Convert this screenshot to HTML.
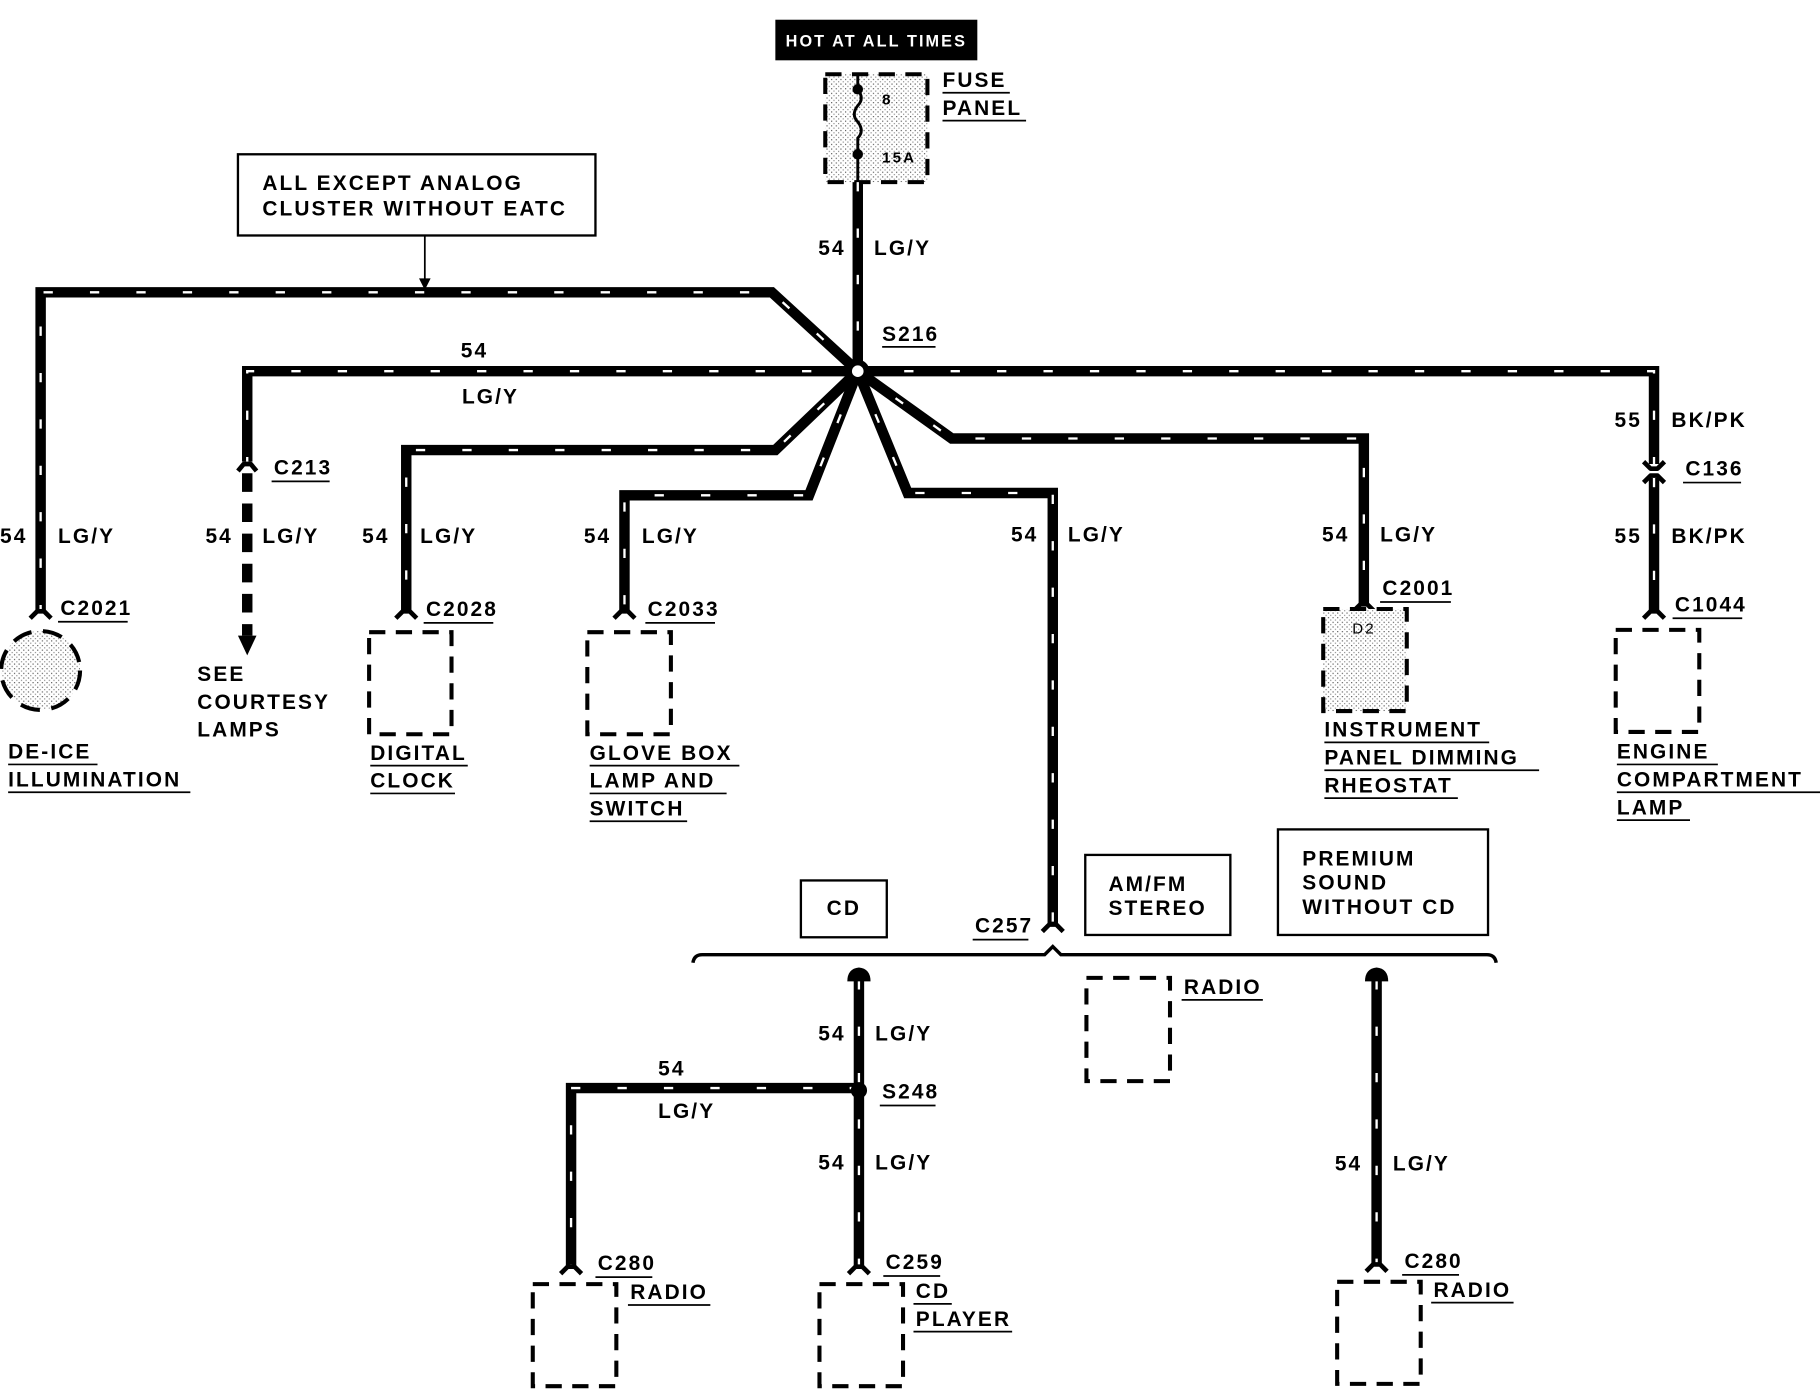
<!DOCTYPE html>
<html><head><meta charset="utf-8"><style>
html,body{margin:0;padding:0;background:#fff;}
svg{display:block;}
text{font-family:"Liberation Sans",sans-serif;font-weight:bold;font-size:18px;letter-spacing:1.8px;fill:#000;}
.w{fill:none;stroke:#000;stroke-width:9;stroke-linejoin:miter;}
.d{fill:none;stroke:#fff;stroke-width:2;stroke-dasharray:8 32;}
.c{fill:none;stroke:#000;stroke-width:4;stroke-linejoin:round;}
.b{fill:none;stroke:#000;stroke-width:3.5;stroke-dasharray:14 9;}
.u{stroke:#000;stroke-width:1.5;}
.bx{fill:#fff;stroke:#000;stroke-width:2;}
</style></head><body>
<svg width="1820" height="1392" viewBox="0 0 1568 1200" preserveAspectRatio="none" xmlns="http://www.w3.org/2000/svg">
<defs>
<pattern id="st" width="4" height="4" patternUnits="userSpaceOnUse"><rect width="4" height="4" fill="#fff"/><rect x="0" y="0" width="1" height="1" fill="#555"/><rect x="2" y="2" width="1" height="1" fill="#888"/></pattern>
</defs>
<rect x="668" y="17" width="174" height="35" fill="#000"/>
<text x="755" y="40" text-anchor="middle" style="fill:#fff;font-size:14px">HOT AT ALL TIMES</text>
<rect x="711" y="64" width="88" height="93" fill="url(#st)"/>
<rect x="711" y="64" width="88" height="93" class="b"/>
<path d="M739 64 V77 M739 77 q6 8 0 14 q-6 8 0 14 q6 8 0 14 V157" fill="none" stroke="#000" stroke-width="2.5"/>
<circle cx="739" cy="77" r="4.5"/><circle cx="739" cy="133" r="4.5"/>
<text x="760" y="90" style="font-size:13px">8</text>
<text x="760" y="140" style="font-size:13px">15A</text>
<text x="812" y="75">FUSE</text><line class="u" x1="812" y1="80" x2="870" y2="80"/>
<text x="812" y="99">PANEL</text><line class="u" x1="812" y1="104" x2="884" y2="104"/>
<text x="705" y="220">54</text><text x="753" y="220">LG/Y</text>
<rect x="205" y="133" width="308" height="70" class="bx"/>
<text x="226" y="164">ALL EXCEPT ANALOG</text>
<text x="226" y="186">CLUSTER WITHOUT EATC</text>
<line x1="366" y1="203" x2="366" y2="246" stroke="#000" stroke-width="1.5"/>
<path d="M361 240 L366 250 L371 240 Z"/>
<g>
<path class="w" d="M739 157 V320"/><path class="d" d="M739 157 V320"/>
<path class="w" d="M739 320 L665 252 H35 V527"/><path class="d" d="M739 320 L665 252 H35 V527"/>
<path class="w" d="M739 320 H213 V398"/><path class="d" d="M739 320 H213 V398"/>
<path class="w" d="M739 320 L668 388 H350 V527"/><path class="d" d="M739 320 L668 388 H350 V527"/>
<path class="w" d="M739 320 L697 427 H538 V527"/><path class="d" d="M739 320 L697 427 H538 V527"/>
<path class="w" d="M739 320 L782 425 H907 V797"/><path class="d" d="M739 320 L782 425 H907 V797"/>
<path class="w" d="M739 320 L820 378 H1175 V522"/><path class="d" d="M739 320 L820 378 H1175 V522"/>
<path class="w" d="M739 320 H1425 V400"/><path class="d" d="M739 320 H1425 V400"/>
<path class="w" d="M1425 412 V527"/><path class="d" d="M1425 412 V527"/>
<path d="M213 408 V548" stroke="#000" stroke-width="9" stroke-dasharray="16 10" fill="none"/>
<path d="M205 548 L213 565 L221 548 Z"/>
</g>
<circle cx="739" cy="320" r="10" fill="#000"/><circle cx="739" cy="320" r="5" fill="#fff"/>
<text x="760" y="294">S216</text><line class="u" x1="760" y1="299" x2="806" y2="299"/>
<text x="397" y="308">54</text><text x="398" y="348">LG/Y</text>
<path class="c" d="M26 533 L32 527 H38 L44 533"/>
<path class="c" d="M205 406 L210 400 H216 L221 406"/>
<path class="c" d="M341 533 L347 527 H353 L359 533"/>
<path class="c" d="M529 533 L535 527 H541 L547 533"/>
<path class="c" d="M1166 527 L1172 521 H1178 L1184 527"/>
<path class="c" d="M1416 398 L1422 404 H1428 L1434 398"/>
<path class="c" d="M1416 416 L1422 410 H1428 L1434 416"/>
<path class="c" d="M1416 533 L1422 527 H1428 L1434 533"/>
<path class="c" d="M898 803 L904 797 H910 L916 803"/>
<text x="0" y="468">54</text><text x="50" y="468">LG/Y</text>
<text x="177" y="468">54</text><text x="226" y="468">LG/Y</text>
<text x="312" y="468">54</text><text x="362" y="468">LG/Y</text>
<text x="503" y="468">54</text><text x="553" y="468">LG/Y</text>
<text x="871" y="467">54</text><text x="920" y="467">LG/Y</text>
<text x="1139" y="467">54</text><text x="1189" y="467">LG/Y</text>
<text x="1391" y="468">55</text><text x="1440" y="468">BK/PK</text>
<text x="1391" y="368">55</text><text x="1440" y="368">BK/PK</text>
<text x="52" y="530">C2021</text><line class="u" x1="50" y1="536" x2="110" y2="536"/>
<text x="236" y="409">C213</text><line class="u" x1="234" y1="415" x2="284" y2="415"/>
<text x="367" y="531">C2028</text><line class="u" x1="365" y1="537" x2="425" y2="537"/>
<text x="558" y="531">C2033</text><line class="u" x1="556" y1="537" x2="616" y2="537"/>
<text x="1191" y="513">C2001</text><line class="u" x1="1189" y1="519" x2="1250" y2="519"/>
<text x="1452" y="410">C136</text><line class="u" x1="1450" y1="416" x2="1500" y2="416"/>
<text x="1443" y="527">C1044</text><line class="u" x1="1441" y1="533" x2="1501" y2="533"/>
<circle cx="35" cy="578" r="34" fill="url(#st)"/>
<circle cx="35" cy="578" r="34" fill="none" stroke="#000" stroke-width="3.5" stroke-dasharray="17 10"/>
<text x="7" y="654">DE-ICE</text><line class="u" x1="7" y1="659" x2="84" y2="659"/>
<text x="7" y="678">ILLUMINATION</text><line class="u" x1="7" y1="683" x2="164" y2="683"/>
<text x="170" y="587">SEE</text><text x="170" y="611">COURTESY</text><text x="170" y="635">LAMPS</text>
<rect x="318" y="545" width="71" height="88" class="b"/>
<text x="319" y="655">DIGITAL</text><line class="u" x1="319" y1="660" x2="403" y2="660"/>
<text x="319" y="679">CLOCK</text><line class="u" x1="319" y1="684" x2="392" y2="684"/>
<rect x="506" y="545" width="72" height="88" class="b"/>
<text x="508" y="655">GLOVE BOX</text><line class="u" x1="508" y1="660" x2="637" y2="660"/>
<text x="508" y="679">LAMP AND</text><line class="u" x1="508" y1="684" x2="626" y2="684"/>
<text x="508" y="703">SWITCH</text><line class="u" x1="508" y1="708" x2="592" y2="708"/>
<rect x="1140" y="525" width="72" height="88" fill="url(#st)"/>
<rect x="1140" y="525" width="72" height="88" class="b"/>
<text x="1165" y="546" style="font-size:13px;font-weight:normal">D2</text>
<text x="1141" y="635">INSTRUMENT</text><line class="u" x1="1141" y1="640" x2="1283" y2="640"/>
<text x="1141" y="659">PANEL DIMMING</text><line class="u" x1="1141" y1="664" x2="1326" y2="664"/>
<text x="1141" y="683">RHEOSTAT</text><line class="u" x1="1141" y1="688" x2="1256" y2="688"/>
<rect x="1392" y="543" width="72" height="88" class="b"/>
<text x="1393" y="654">ENGINE</text><line class="u" x1="1393" y1="659" x2="1480" y2="659"/>
<text x="1393" y="678">COMPARTMENT</text><line class="u" x1="1393" y1="683" x2="1568" y2="683"/>
<text x="1393" y="702">LAMP</text><line class="u" x1="1393" y1="707" x2="1456" y2="707"/>
<rect x="690" y="759" width="74" height="49" class="bx"/>
<text x="727" y="789" text-anchor="middle">CD</text>
<rect x="935" y="737" width="125" height="69" class="bx"/>
<text x="955" y="768">AM/FM</text><text x="955" y="789">STEREO</text>
<rect x="1101" y="715" width="181" height="91" class="bx"/>
<text x="1122" y="746">PREMIUM</text><text x="1122" y="767">SOUND</text><text x="1122" y="788">WITHOUT CD</text>
<text x="840" y="804">C257</text><line class="u" x1="838" y1="810" x2="886" y2="810"/>
<path d="M597 830 Q598 823 605 823 H900 L907 816 L914 823 H1281 Q1288 823 1289 830" fill="none" stroke="#000" stroke-width="3"/>
<path class="w" d="M740 845 V1092"/><path class="d" d="M740 845 V1092"/>
<path d="M730 846 Q730 835 740 834 Q750 835 750 846 Z"/>
<path class="w" d="M740 938 H492 V1092"/><path class="d" d="M740 938 H492 V1092"/>
<circle cx="740" cy="940" r="7"/>
<text x="760" y="947">S248</text><line class="u" x1="758" y1="953" x2="806" y2="953"/>
<text x="705" y="897">54</text><text x="754" y="897">LG/Y</text>
<text x="705" y="1008">54</text><text x="754" y="1008">LG/Y</text>
<text x="567" y="927">54</text><text x="567" y="964">LG/Y</text>
<path class="c" d="M483 1098 L489 1092 H495 L501 1098"/>
<path class="c" d="M731 1098 L737 1092 H743 L749 1098"/>
<text x="515" y="1095">C280</text><line class="u" x1="513" y1="1101" x2="562" y2="1101"/>
<text x="543" y="1120">RADIO</text><line class="u" x1="541" y1="1125" x2="612" y2="1125"/>
<rect x="459" y="1107" width="72" height="88" class="b"/>
<text x="763" y="1094">C259</text><line class="u" x1="761" y1="1100" x2="810" y2="1100"/>
<text x="789" y="1119">CD</text><line class="u" x1="787" y1="1124" x2="820" y2="1124"/>
<text x="789" y="1143">PLAYER</text><line class="u" x1="787" y1="1148" x2="872" y2="1148"/>
<rect x="706" y="1107" width="72" height="88" class="b"/>
<rect x="936" y="843" width="72" height="89" class="b"/>
<text x="1020" y="857">RADIO</text><line class="u" x1="1018" y1="862" x2="1088" y2="862"/>
<path class="w" d="M1186 845 V1090"/><path class="d" d="M1186 845 V1090"/>
<path d="M1176 846 Q1176 835 1186 834 Q1196 835 1196 846 Z"/>
<path class="c" d="M1177 1096 L1183 1090 H1189 L1195 1096"/>
<text x="1150" y="1009">54</text><text x="1200" y="1009">LG/Y</text>
<text x="1210" y="1093">C280</text><line class="u" x1="1208" y1="1099" x2="1257" y2="1099"/>
<text x="1235" y="1118">RADIO</text><line class="u" x1="1233" y1="1123" x2="1304" y2="1123"/>
<rect x="1152" y="1105" width="72" height="88" class="b"/>
</svg>
</body></html>
